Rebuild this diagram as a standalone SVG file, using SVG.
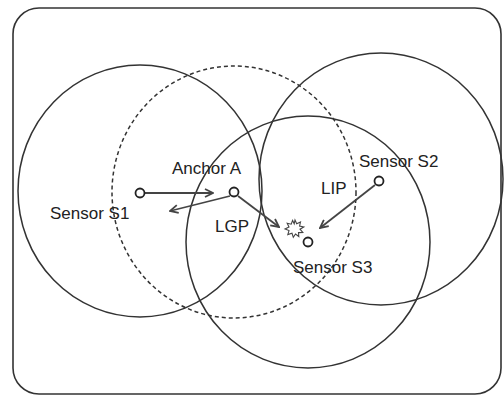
<svg xmlns="http://www.w3.org/2000/svg" width="504" height="396" viewBox="0 0 504 396">
<defs>
<style>
.rng{fill:none;stroke:#333;stroke-width:1.5}
.dash{stroke-dasharray:4 3}
.node{fill:#fff;stroke:#222;stroke-width:1.8}
.arr{fill:none;stroke:#444;stroke-width:1.8;marker-end:url(#ah)}
text{font-family:"Liberation Sans",Arial,sans-serif;font-size:17px;fill:#222}
</style>
<marker id="ah" viewBox="0 0 10 10" refX="9" refY="5" markerWidth="10" markerHeight="10" markerUnits="userSpaceOnUse" orient="auto">
<polyline points="1,1 9,5 1,9" fill="none" stroke="#444" stroke-width="1.8"/>
</marker>
</defs>
<rect x="13" y="8" width="488" height="386" rx="26" ry="26" fill="#fff" stroke="#333" stroke-width="1.6"/>
<g id="ranges">
<ellipse id="range-s1" class="rng" cx="140" cy="191" rx="122" ry="126"/>
<ellipse id="range-a" class="rng dash" cx="234" cy="192" rx="122" ry="126"/>
<ellipse id="range-s2" class="rng" cx="381" cy="179" rx="122" ry="126"/>
<ellipse id="range-s3" class="rng" cx="308" cy="242" rx="122" ry="126"/>
</g>
<g id="connectors">
<line class="arr" x1="145" y1="193" x2="213" y2="193"/>
<line class="arr" x1="230" y1="196" x2="170" y2="211"/>
<line class="arr" x1="238" y1="196" x2="279" y2="227"/>
<line class="arr" x1="375" y1="185" x2="320" y2="228"/>
</g>
<g id="sensor-s1"><circle class="node" cx="140" cy="193" r="4.5"/><text x="50" y="219">Sensor S1</text></g>
<g id="anchor-a"><circle class="node" cx="234" cy="192" r="4.5"/><text x="172" y="174">Anchor A</text></g>
<g id="sensor-s2"><circle class="node" cx="379" cy="181" r="4.5"/><text x="359" y="167">Sensor S2</text></g>
<g id="sensor-s3"><circle class="node" cx="308" cy="242" r="4.5"/><text x="293" y="273">Sensor S3</text></g>
<g id="event"><polygon points="295,220 296.7,223.8 300.5,222 299.6,226 303.8,227 300,229.2 302.8,232.5 298.5,232.6 298.8,236.5 295.5,234 293.3,237.3 292,233.3 287.8,234.6 289,230.6 285,229 289,227 287.2,223.3 291.2,224.2 292.6,220.4 294.2,223.8" fill="#fff" stroke="#444" stroke-width="1.1"/></g>
<g id="labels"><text x="215" y="232">LGP</text><text x="321" y="194">LIP</text></g>
</svg>
